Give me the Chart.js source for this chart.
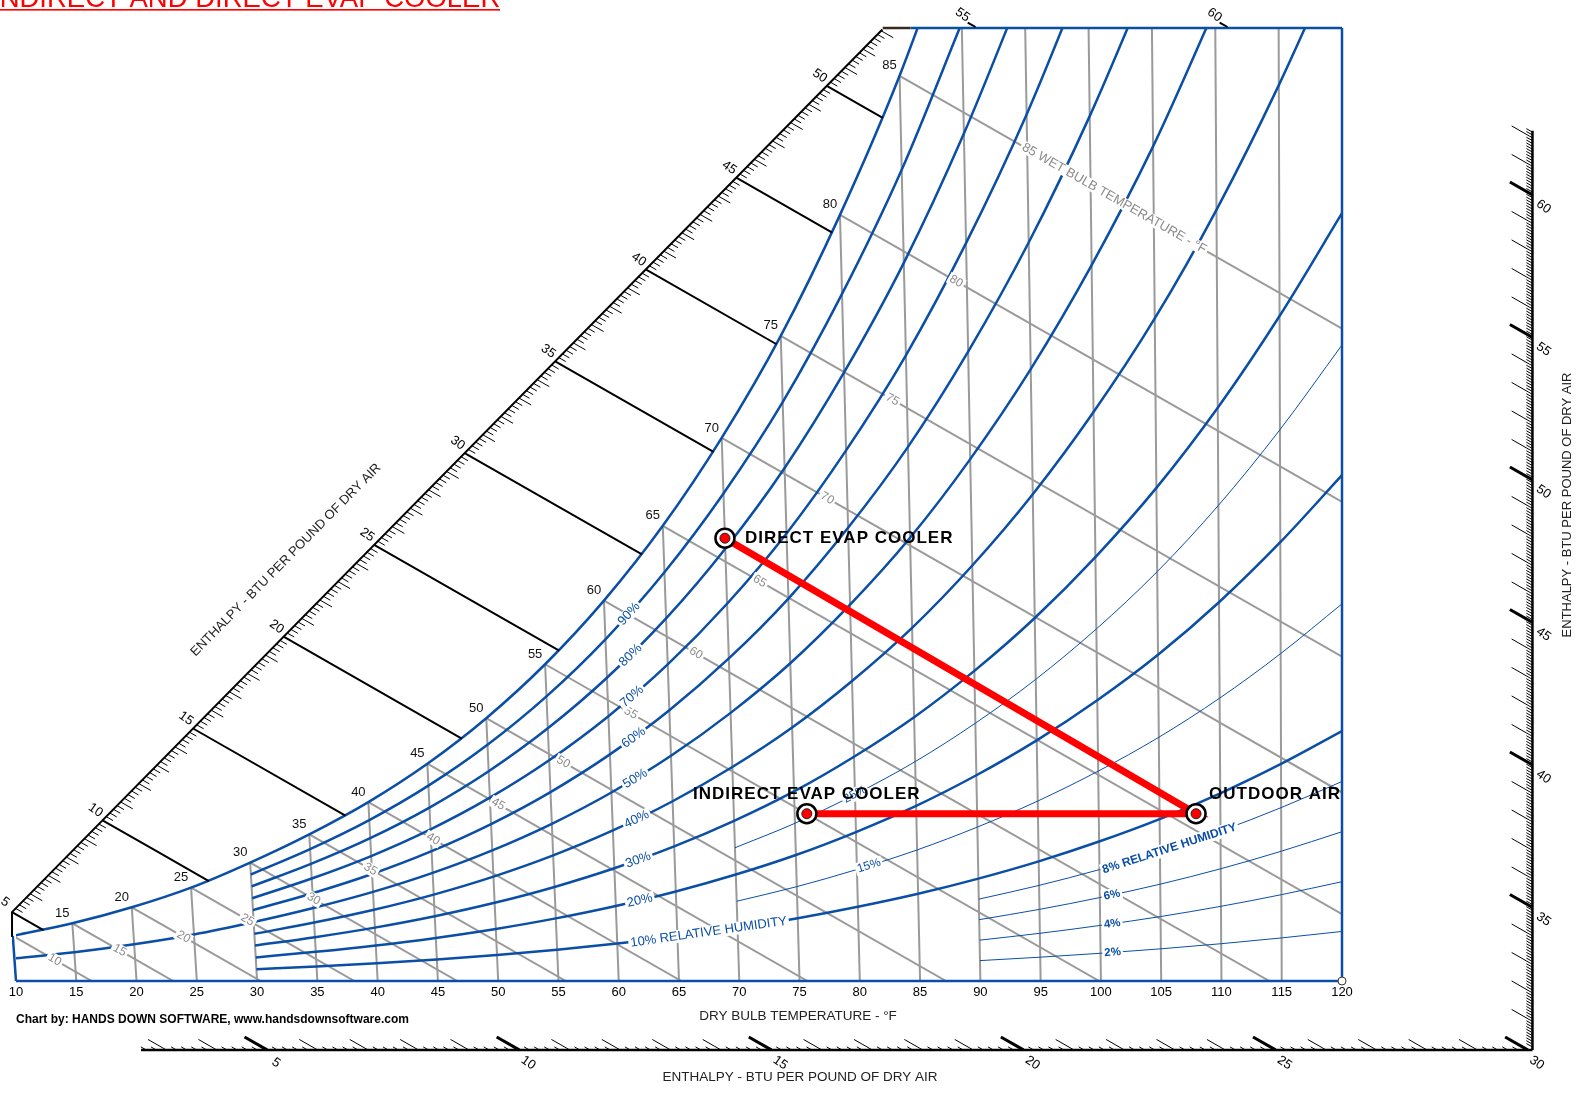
<!DOCTYPE html>
<html>
<head>
<meta charset="utf-8">
<title>Indirect and direct evap cooler - psychrometric chart</title>
<script src="https://cdn.jsdelivr.net/npm/chart.js@4.4.1/dist/chart.umd.min.js"></script>
<style>
  html, body { margin: 0; padding: 0; background: #ffffff; }
  canvas { display: block; }
</style>
</head>
<body>
<canvas id="psy" width="1585" height="1094"></canvas>
<script>
// ---- chart data ---------------------------------------------------------
// dry bulb temperatures of the table, deg F
var dryBulbF = [10, 15, 20, 25, 30, 35, 40, 45, 50, 55, 60, 65, 70, 75, 80, 85, 90, 95, 100, 105, 110, 115, 120];
// humidity ratio at saturation for each dry bulb, grains per lb of dry air
var satGrains = [9.17, 11.72, 14.98, 18.98, 24.07, 29.81, 36.37, 44.16, 53.42, 64.38, 77.31, 92.51,
  110.38, 131.12, 155.72, 183.99, 217.45, 256.05, 301.08, 353.03, 414.23, 485.71, 567.69];

// relative humidity curves, percent
var rhMain = [10, 20, 30, 40, 50, 60, 70, 80, 90];
var rhThin = [15, 25];     // thin ones, drawn from 70 F
var rhLow = [2, 4, 6, 8];  // thin ones, drawn from 90 F

// wet bulb lines, and where their grey labels sit (horizontal chart position, F)
var wetBulbF = [10, 15, 20, 25, 30, 35, 40, 45, 50, 55, 60, 65, 70, 75, 80, 85];
var wetBulbLabelX = [13.2, 18.6, 23.9, 29.2, 34.7, 39.4, 44.6, 50.0, 55.4, 61.0, 66.4, 71.7, 77.3, 82.7, 88.0, 101.1];

// enthalpy, btu per lb of dry air
var enthalpyLines = [5, 10, 15, 20, 25, 30, 35, 40, 45, 50];
var topScaleLabels = [55, 60];
var rightScaleLabels = [35, 40, 45, 50, 55, 60];
var bottomScaleLabels = [5, 10, 15, 20, 25, 30];

var xTickValues = [10, 15, 20, 25, 30, 35, 40, 45, 50, 55, 60, 65, 70, 75, 80, 85, 90, 95, 100, 105, 110, 115, 120];

// process states (dry bulb F, grains per lb)
var stateNames = ['DIRECT EVAP COOLER', 'OUTDOOR AIR', 'INDIRECT EVAP COOLER'];
var stateDryBulb = [70, 108, 76];
var stateGrains = [90, 34, 34];

// ---- chart geometry -----------------------------------------------------
var TOP_GR = 193.7;          // humidity ratio at the top edge
var SLANT = 1.85 / 7000;     // dry bulb lines lean left as moisture rises
var WB_RUN = 0.714;          // F of run per grain along wet bulb / enthalpy lines
var BLUE = '#0a4ea6', GREY = '#9a9a9a';
var FONT = '"Liberation Sans", Arial, sans-serif';

function xeq(t, w) { return t + SLANT * w * (t - 120); }
function tOf(x, w) { return (x + SLANT * w * 120) / (1 + SLANT * w); }
function pt(t, w) { return { x: xeq(t, w), y: w }; }
function wsAt(t) {
  var i = Math.min(Math.max(Math.floor((t - 10) / 5), 0), dryBulbF.length - 2);
  var f = (t - dryBulbF[i]) / 5;
  return satGrains[i] * Math.pow(satGrains[i + 1] / satGrains[i], f);
}
function rhGrains(ws, rh) { var u = ws / 4354, p = rh / 100; return 4354 * p * u / (1 + (1 - p) * u); }

function rhCurve(rh, fromT) {
  var out = [];
  for (var i = 0; i < dryBulbF.length; i++) {
    if (dryBulbF[i] < fromT) continue;
    var w = rh >= 100 ? satGrains[i] : rhGrains(satGrains[i], rh);
    out.push(pt(dryBulbF[i], w));
    if (w > TOP_GR) break;
  }
  return out;
}

// diagonal enthalpy scale along the saturation side
function diagPoint(h) { return { x: 9.67 + 1.502 * (h - 5), y: 14.0 + 3.732 * (h - 5) }; }
function satHit(p) {
  for (var s = 0; s < 150; s += 0.05) {
    var x = p.x + WB_RUN * s, w = p.y - s;
    if (w <= wsAt(tOf(x, w))) return { x: x, y: w };
  }
  return p;
}
var DIAG_END = 53.07;
function rightW(h) { return -14.0 + 5.793 * (h - 30); }   // right scale, at x = 135.8
function bottomX(h) { return 30.83 + 4.183 * (h - 5); }   // bottom scale, at w = -14
function topX(h) { return 89.6 + 4.18 * (h - 55); }

function line(data, color, width, order, extra) {
  var d = { data: data, showLine: true, borderColor: color, borderWidth: width, pointRadius: 0,
    fill: false, cubicInterpolationMode: 'monotone', order: order };
  return Object.assign(d, extra || {});
}

var datasets = [];
// dry bulb lines
dryBulbF.forEach(function (t, i) {
  if (t === 10 || t === 120) return;
  var top = Math.min(satGrains[i], TOP_GR);
  datasets.push(line([pt(t, 0), pt(t, top)], GREY, 2, 60));
});
// wet bulb lines
wetBulbF.forEach(function (wb) {
  var ws = satGrains[dryBulbF.indexOf(wb)], xs = xeq(wb, ws);
  datasets.push(line([{ x: xs, y: ws }, { x: xs + WB_RUN * ws, y: 0 }], GREY, 2, 60));
});
// relative humidity curves
rhMain.forEach(function (rh) { datasets.push(line(rhCurve(rh, rh === 50 ? 10 : 30), BLUE, 2.5, 40)); });
rhThin.forEach(function (rh) { datasets.push(line(rhCurve(rh, 70), BLUE, 1, 40)); });
rhLow.forEach(function (rh) { datasets.push(line(rhCurve(rh, 90), BLUE, 1, 40)); });
datasets.push(line(rhCurve(100, 10), BLUE, 2.5, 35));
// plot frame
datasets.push(line([pt(10, 0), pt(120, 0)], BLUE, 2.5, 35, { clip: 4 }));
datasets.push(line([pt(120, 0), pt(120, TOP_GR)], BLUE, 2.5, 35, { clip: 4 }));
datasets.push(line([{ x: 84.2, y: TOP_GR }, pt(120, TOP_GR)], BLUE, 2.5, 35, { clip: 4 }));
datasets.push(line([{ x: 81.9, y: TOP_GR }, { x: 84.2, y: TOP_GR }], '#3a2a1a', 2.5, 34, { clip: 4 }));
datasets.push(line([pt(10, 0), pt(10, satGrains[0])], BLUE, 2.5, 35, { clip: 4 }));
// enthalpy scale and its lines up to saturation
enthalpyLines.forEach(function (h) {
  var p = diagPoint(h);
  datasets.push(line([p, satHit(p)], '#000', 2, 30, { clip: false }));
});
datasets.push(line([pt(10, satGrains[0]), diagPoint(5), diagPoint(DIAG_END)], '#000', 2, 30,
  { clip: false, cubicInterpolationMode: 'default', tension: 0 }));
// process
var states = stateNames.map(function (n, i) { return pt(stateDryBulb[i], stateGrains[i]); });
datasets.push(line([states[0], states[1], states[2]], '#ff0000', 7, 20,
  { cubicInterpolationMode: 'default', tension: 0 }));
datasets.push({ data: states, showLine: false, pointRadius: 9.5, pointBackgroundColor: '#fff',
  pointBorderColor: '#000', pointBorderWidth: 2.5, order: 10 });
datasets.push({ data: states, showLine: false, pointRadius: 5, pointBackgroundColor: '#ff0000',
  pointBorderColor: '#222', pointBorderWidth: 1, order: 5 });

// ---- text and the side scales ---------------------------------------------
function txt(ctx, s, x, y, o) {
  ctx.save();
  ctx.translate(x, y);
  if (o.rot) ctx.rotate(o.rot);
  ctx.font = o.font;
  ctx.letterSpacing = o.ls || '0px';
  ctx.textAlign = o.align || 'center';
  ctx.textBaseline = 'middle';
  if (o.bg) {
    var w = ctx.measureText(s).width;
    var x0 = o.align === 'left' ? 0 : -w / 2;
    ctx.fillStyle = '#fff';
    ctx.fillRect(x0 - 2, -o.bg / 2, w + 4, o.bg);
  }
  ctx.fillStyle = o.color || '#000';
  ctx.fillText(s, 0, 0);
  ctx.restore();
}

var decor = {
  id: 'psyDecor',
  afterDatasetsDraw: function (chart) {
    var ctx = chart.ctx, sx = chart.scales.x, sy = chart.scales.y;
    function X(v) { return sx.getPixelForValue(v); }
    function Y(v) { return sy.getPixelForValue(v); }
    var ux = WB_RUN * (X(1) - X(0)), uy = Y(0) - Y(1);
    var ul = Math.hypot(ux, uy), dx = ux / ul, dy = uy / ul;   // down-right, along enthalpy lines
    var ang = Math.atan2(dy, dx);
    var rot = 35 * Math.PI / 180;

    function tick(x, y, len, w, sign) {
      ctx.beginPath();
      ctx.lineWidth = w;
      ctx.moveTo(x, y);
      ctx.lineTo(x + sign * dx * len, y + sign * dy * len);
      ctx.stroke();
    }
    ctx.save();
    ctx.strokeStyle = '#000';
    // diagonal scale ticks
    for (var k = 25; k <= Math.floor(DIAG_END * 5); k++) {
      if (k % 25 === 0) continue;
      var p = diagPoint(k / 5);
      tick(X(p.x), Y(p.y), k % 5 === 0 ? 14 : 8, 1, 1);
    }
    // right scale
    var rx = X(135.8);
    ctx.lineWidth = 2.5;
    ctx.beginPath(); ctx.moveTo(rx, Y(rightW(62.25))); ctx.lineTo(rx, Y(rightW(30))); ctx.stroke();
    for (k = 301; k <= 622; k++) {
      var yy = Y(rightW(k / 10));
      if (k % 50 === 0) tick(rx, yy, 26, 3, -1);
      else if (k % 10 === 0) tick(rx, yy, 24, 1, -1);
      else tick(rx, yy, 7, 1, -1);
    }
    // bottom scale
    var by = Y(-14.0);
    ctx.lineWidth = 2.5;
    ctx.beginPath(); ctx.moveTo(X(bottomX(2.5)), by); ctx.lineTo(rx, by); ctx.stroke();
    for (k = 13; k <= 150; k++) {
      var xx = X(bottomX(k / 5));
      if (k % 25 === 0) tick(xx, by, 26, 3, -1);
      else if (k % 5 === 0) tick(xx, by, 21, 1, -1);
      else tick(xx, by, 6, 1, -1);
    }
    // top edge marks
    topScaleLabels.forEach(function (h) { tick(X(topX(h)), Y(TOP_GR) - 1, 9, 2, -1); });
    // small corner mark
    ctx.lineWidth = 1;
    ctx.strokeStyle = '#333';
    ctx.fillStyle = '#fff';
    ctx.beginPath(); ctx.arc(X(120), Y(0), 4, 0, Math.PI * 2); ctx.fill(); ctx.stroke();
    ctx.restore();

    var f12 = '12px ' + FONT, f13 = '13px ' + FONT;
    enthalpyLines.forEach(function (h) {
      var p = diagPoint(h);
      txt(ctx, String(h), X(p.x) - 7, Y(p.y) - 10, { font: f13, rot: rot });
    });
    topScaleLabels.forEach(function (h) { txt(ctx, String(h), X(topX(h)) - 13, Y(TOP_GR) - 13, { font: f13, rot: rot }); });
    rightScaleLabels.forEach(function (h) { txt(ctx, String(h), rx + 11, Y(rightW(h)) + 12, { font: f13, rot: rot }); });
    bottomScaleLabels.forEach(function (h) { txt(ctx, String(h), X(bottomX(h)) + 9, by + 13, { font: f13, rot: rot }); });

    // wet bulb labels
    wetBulbF.forEach(function (wb, i) {
      var ws = satGrains[dryBulbF.indexOf(wb)], xs = xeq(wb, ws);
      if (wb > 10) txt(ctx, String(wb), X(xs) - 10, Y(ws) - 10, { font: f13, color: '#111' });
      var lx = wetBulbLabelX[i], lw = ws - (lx - xs) / WB_RUN;
      var s = wb === 85 ? '85 WET BULB TEMPERATURE - \u00B0F' : String(wb);
      txt(ctx, s, X(lx), Y(lw), { font: wb === 85 ? f13 : f12, color: '#8a8a8a', rot: ang, bg: 12 });
    });

    // relative humidity labels
    function rhLabel(s, rh, t, font) {
      var w = rhGrains(wsAt(t), rh);
      var a = pt(t - 1, rhGrains(wsAt(t - 1), rh)), b = pt(t + 1, rhGrains(wsAt(t + 1), rh));
      var r = Math.atan2(Y(b.y) - Y(a.y), X(b.x) - X(a.x));
      txt(ctx, s, X(xeq(t, w)), Y(w), { font: font, color: BLUE, rot: r, bg: 13 });
    }
    rhMain.forEach(function (rh) {
      if (rh === 10) rhLabel('10% RELATIVE HUMIDITY', 10, 67.6, f13);
      else rhLabel(rh + '%', rh, 62, f13);
    });
    rhLabel('15%', 15, 81, f12);
    rhLabel('25%', 25, 80, f12);
    rhLabel('8% RELATIVE HUMIDITY', 8, 105.8, 'bold 12px ' + FONT);
    [6, 4, 2].forEach(function (rh) { rhLabel(rh + '%', rh, 101, 'bold 11.5px ' + FONT); });

    // process labels
    var sf = 'bold 17px ' + FONT;
    var p0 = states[0], p1 = states[1], p2 = states[2];
    txt(ctx, stateNames[0], X(p0.x) + 20, Y(p0.y), { font: sf, ls: '1px', align: 'left' });
    txt(ctx, stateNames[1], X(p1.x) + 13, Y(p1.y) - 19, { font: sf, ls: '1px', align: 'left' });
    txt(ctx, stateNames[2], X(p2.x), Y(p2.y) - 19, { font: sf, ls: '1px' });

    // axis titles and credit
    var area = chart.chartArea;
    txt(ctx, 'DRY BULB TEMPERATURE - \u00B0F', 798, area.bottom + 35, { font: '13.5px ' + FONT, color: '#222' });
    txt(ctx, 'ENTHALPY - BTU PER POUND OF DRY AIR', 800, by + 27, { font: '13.5px ' + FONT, color: '#222' });
    txt(ctx, 'ENTHALPY - BTU PER POUND OF DRY AIR', rx + 35, 505, { font: f13, color: '#222', rot: -Math.PI / 2 });
    var d5 = diagPoint(5), d50 = diagPoint(50), dm = diagPoint(22);
    txt(ctx, 'ENTHALPY - BTU PER POUND OF DRY AIR', X(dm.x) - 34, Y(dm.y) - 40,
      { font: f13, color: '#222', rot: Math.atan2(Y(d50.y) - Y(d5.y), X(d50.x) - X(d5.x)) });
    txt(ctx, 'Chart by: HANDS DOWN SOFTWARE, www.handsdownsoftware.com', 16, area.bottom + 39,
      { font: 'bold 12px ' + FONT, align: 'left' });
  },
  afterDraw: function (chart) {
    var ctx = chart.ctx;
    ctx.save();
    ctx.font = '27.5px ' + FONT;
    ctx.fillStyle = '#ff0000';
    ctx.textBaseline = 'alphabetic';
    ctx.fillText('INDIRECT AND DIRECT EVAP COOLER', -8, 7);
    ctx.fillRect(0, 9, 500, 1.6);
    ctx.restore();
  }
};

Chart.defaults.font.family = FONT;
new Chart(document.getElementById('psy'), {
  type: 'scatter',
  data: { datasets: datasets },
  options: {
    responsive: false,
    animation: false,
    events: [],
    layout: { padding: { left: 16, right: 243, top: 28, bottom: 91 } },
    elements: { line: { capBezierPoints: false } },
    plugins: { legend: { display: false }, tooltip: { enabled: false } },
    scales: {
      x: {
        type: 'linear', min: 10, max: 120,
        afterBuildTicks: function (s) { s.ticks = xTickValues.map(function (v) { return { value: v }; }); },
        afterFit: function (s) { s.height = 22; },
        ticks: { autoSkip: false, maxRotation: 0, color: '#000', padding: 4, font: { size: 13 } },
        grid: { display: false, drawTicks: false },
        border: { display: false }
      },
      y: { type: 'linear', min: 0, max: TOP_GR, display: false }
    }
  },
  plugins: [decor]
});
</script>
</body>
</html>
